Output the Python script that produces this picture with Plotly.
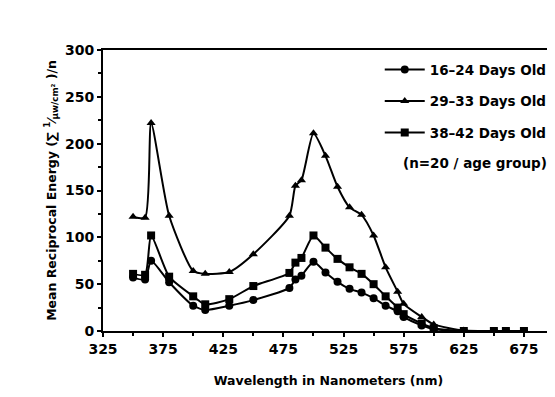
import plotly.graph_objects as go

wavelength = [350, 360, 365, 380, 400, 410, 430, 450, 480, 485, 490, 500, 510, 520, 530, 540, 550, 560, 570, 575, 590, 600, 625, 650, 660, 675]
days_16_24 = [57, 55, 75, 52, 27, 22.5, 27, 33, 46, 55, 59, 74, 62.5, 52.5, 45, 41, 35, 27, 21, 15, 6, 2, 0, 0, 0, 0]
days_29_33 = [122, 121, 222, 123, 64, 61, 63, 82, 123, 155, 161, 211, 187, 154, 132, 124, 102, 68, 42, 29, 15, 7, 0.5, 0, 0, 0]
days_38_42 = [61, 60, 102, 58, 37, 28.5, 34, 48, 62, 73, 78, 102, 89, 77, 68, 61, 50, 37, 25, 18, 8, 3, 0, 0, 0, 0]
series_names = ["16\u201324 Days Old", "29\u201333 Days Old", "38\u201342 Days Old"]
x_ticks = [325, 375, 425, 475, 525, 575, 625, 675]
y_ticks = [0, 50, 100, 150, 200, 250, 300]

FONT = "DejaVu Sans"
fig = go.Figure()
for i, (name, vals, sym) in enumerate(zip(series_names, [days_16_24, days_29_33, days_38_42],
                                          ["circle", "triangle-up", "square"])):
    fig.add_trace(go.Scatter(
        x=wavelength, y=vals, name=name, mode="lines+markers", legendgroup=f"g{i}",
        line=dict(color="black", width=2, shape="spline", smoothing=0.6),
        marker=dict(symbol=sym, color="black", size=8),
    ))

axis_common = dict(
    showline=True, linecolor="black", linewidth=2, mirror=True,
    ticks="outside", ticklen=4, tickwidth=2, tickcolor="black",
    showgrid=False, zeroline=False,
    tickfont=dict(family=FONT, size=14, color="black", weight="bold"),
)
fig.update_xaxes(
    range=[325, 700], tickmode="array", tickvals=x_ticks,
    minor=dict(dtick=25, tick0=325, ticks="outside", ticklen=3, tickwidth=2, tickcolor="black", showgrid=False),
    title=dict(text="Wavelength in Nanometers (nm)", font=dict(family=FONT, size=12.5, color="black", weight="bold"), standoff=20),
    **axis_common,
)
fig.update_yaxes(
    range=[0, 300], tickmode="array", tickvals=y_ticks,
    minor=dict(dtick=25, tick0=0, ticks="outside", ticklen=3, tickwidth=2, tickcolor="black", showgrid=False),
    title=dict(text="Mean Reciprocal Energy (\u2211 <sup>1</sup>\u2044<sub>\u03bcw/cm\u00b2</sub> )/n",
               font=dict(family=FONT, size=12.5, color="black", weight="bold"), standoff=6),
    **axis_common,
)
fig.update_layout(
    width=555, height=397,
    margin=dict(l=95, r=7, t=42, b=74),
    paper_bgcolor="white", plot_bgcolor="white",
    font=dict(family=FONT, color="black"),
    legend=dict(x=0.995, y=0.985, xanchor="right", yanchor="top",
                bgcolor="rgba(0,0,0,0)", font=dict(family=FONT, size=13.5, color="black", weight="bold"),
                tracegroupgap=11, itemwidth=40),
    annotations=[dict(text="(n=20 / age group)", xref="paper", yref="paper", x=0.99, y=0.598,
                      xanchor="right", yanchor="middle", showarrow=False,
                      font=dict(family=FONT, size=13.5, color="black", weight="bold"))],
)
fig.write_html("out.html")
